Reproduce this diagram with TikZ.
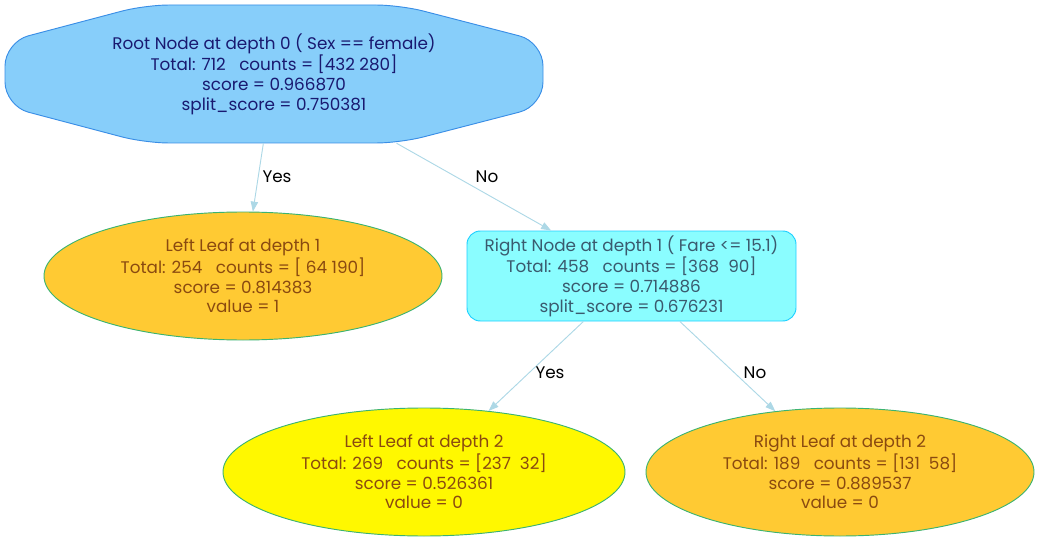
\documentclass[tikz,border=0pt]{standalone}
\usepackage{fontspec}
\setmainfont{Poppins}
\usetikzlibrary{arrows.meta,shapes.geometric}
\definecolor{rootfill}{HTML}{87CEFA}
\definecolor{rootdraw}{HTML}{3A8EE6}
\definecolor{roottext}{HTML}{191970}
\definecolor{nodefill}{HTML}{8AFDFF}
\definecolor{nodedraw}{HTML}{1ECFFF}
\definecolor{nodetext}{HTML}{3A5A6E}
\definecolor{leafor}{HTML}{FFCA33}
\definecolor{leafye}{HTML}{FFF800}
\definecolor{leafdraw}{HTML}{3CB371}
\definecolor{leaftext}{HTML}{8A4A10}
\definecolor{edgec}{HTML}{ADD8E6}
\tikzset{
  txt/.style={align=center,font=\fontsize{12.6}{14.8}\selectfont,inner sep=0pt},
  leaf/.style={txt,ellipse,draw=leafdraw,line width=0.7pt,text=leaftext,minimum width=#1},
  inner/.style={txt,rectangle,rounded corners=10pt,draw=nodedraw,fill=nodefill,text=nodetext,line width=0.7pt,minimum width=246.75pt,minimum height=67.5pt},
  conn/.style={draw=edgec,line width=0.7pt,-{Triangle[length=7.5pt,width=5.5pt]}},
  lbl/.style={font=\fontsize{12.6}{14}\selectfont,text=black,inner sep=0pt}
}
\begin{document}
\begin{tikzpicture}[x=0.75pt,y=-0.75pt]
\useasboundingbox (0,0) rectangle (1040,542);
% root octagon
\draw[rootdraw,fill=rootfill,line width=0.7pt,rounded corners=18pt]
  (145,5) -- (400,5) -- (543,42) -- (543,106) -- (400,143) -- (145,143) -- (5,106) -- (5,42) -- cycle;
\node[txt,text=roottext,minimum width=403.5pt,minimum height=103.5pt] (root) at (274,74)
  {Root Node at depth 0 ( Sex == female)\\Total: 712 \ \ counts = [432 280]\\score = 0.966870\\split\_score = 0.750381};
\node[leaf=298.5pt,fill=leafor,minimum height=96pt] (l1) at (243,276)
  {Left Leaf at depth 1\\Total: 254 \ \ counts = [ 64 190]\\score = 0.814383\\value = 1};
\node[inner] (r1) at (631.5,276)
  {Right Node at depth 1 ( Fare <= 15.1)\\Total: 458 \ \ counts = [368 \ 90]\\score = 0.714886\\split\_score = 0.676231};
\node[leaf=301.5pt,fill=leafye,minimum height=96pt] (l2) at (424,472)
  {Left Leaf at depth 2\\Total: 269 \ \ counts = [237 \ 32]\\score = 0.526361\\value = 0};
\node[leaf=291pt,fill=leafor,minimum height=96pt] (r2) at (840,472)
  {Right Leaf at depth 2\\Total: 189 \ \ counts = [131 \ 58]\\score = 0.889537\\value = 0};
\draw[conn] (root) -- (l1);
\draw[conn] (root) -- (r1);
\draw[conn] (r1) -- (l2);
\draw[conn] (r1) -- (r2);
\node[lbl] (y1) at (277,177) {Yes};
\node[lbl] (n1) at (487,177) {No};
\node[lbl] (y2) at (550,373) {Yes};
\node[lbl] (n2) at (755,373) {No};
\end{tikzpicture}
\end{document}
